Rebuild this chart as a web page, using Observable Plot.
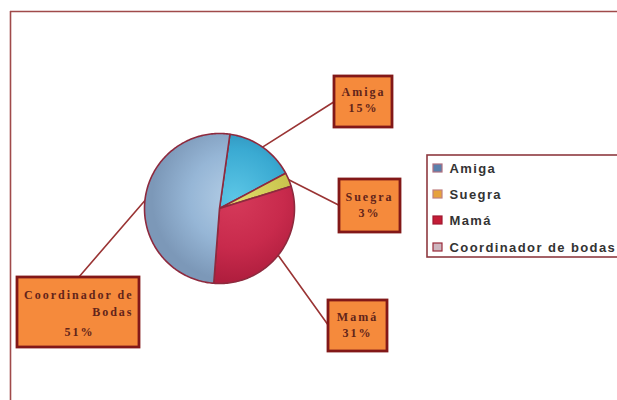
<!DOCTYPE html>
<html>
<head>
<meta charset="utf-8">
<script src="https://cdn.jsdelivr.net/npm/d3@7"></script>
<script src="https://cdn.jsdelivr.net/npm/@observablehq/plot@0.6"></script>
<style>
  html, body { margin: 0; padding: 0; background: #fff; }
  #chart { width: 617px; height: 400px; overflow: hidden; }
</style>
</head>
<body>
<div id="chart"></div>
<script>
// ---- data ----
const categories = ["Amiga", "Suegra", "Mamá", "Coordinador de bodas"];
const values = [15, 3, 31, 51];
const percentLabels = ["15%", "3%", "31%", "51%"];
const calloutLines = [["Amiga"], ["Suegra"], ["Mamá"], ["Coordinador de", "Bodas"]];

// ---- layout / style ----
const W = 617, H = 400;
const cx = 219, cy = 208, R = 75;
const startAngle = 8 * Math.PI / 180;
const sliceFill = ["url(#gAmiga)", "url(#gSuegra)", "url(#gMama)", "url(#gCoord)"];
const swatchFill = ["#5a80ac", "#e6a23c", "#c41c36", "#cdb6bf"];
const swatchStroke = ["#b07080", "#c08080", "#a01830", "#9a2a3a"];
// callout boxes: [x1, y1, x2, y2], attach point, text anchor/x, first text baseline y
const boxes = [
  {x1: 334, y1: 76, x2: 392, y2: 127, ax: 334, ay: 101, tx: 363, anchor: "middle", ty: 92, px: 363},
  {x1: 339, y1: 179, x2: 400, y2: 232, ax: 339, ay: 205, tx: 369, anchor: "middle", ty: 197, px: 369},
  {x1: 328, y1: 300, x2: 387, y2: 351, ax: 328, ay: 325, tx: 357, anchor: "middle", ty: 317, px: 357},
  {x1: 17, y1: 277, x2: 139, y2: 347, ax: 78, ay: 277, tx: 133, anchor: "end", ty: 295, px: 79}
];

const pie = d3.pie().sort(null).value(d => d).startAngle(startAngle).endAngle(startAngle + 2 * Math.PI);
const arcs = pie(values);

const pt = (a, r) => [cx + r * Math.sin(a), cy - r * Math.cos(a)];

// slice polygons
const slicePolys = arcs.map((a, i) => {
  const pts = [{x: cx, y: cy}];
  const n = Math.max(4, Math.ceil((a.endAngle - a.startAngle) / 0.02));
  for (let k = 0; k <= n; k++) {
    const t = a.startAngle + (a.endAngle - a.startAngle) * k / n;
    const [x, y] = pt(t, R);
    pts.push({x, y});
  }
  return pts;
});

// leader lines
const leaders = arcs.map((a, i) => {
  const mid = (a.startAngle + a.endAngle) / 2;
  const [x0, y0] = pt(mid, R);
  const b = boxes[i];
  return [{x: x0, y: y0, i}, {x: b.ax, y: b.ay, i}];
}).flat();

// callout texts
const calloutTexts = [];
boxes.forEach((b, i) => {
  calloutLines[i].forEach((t, k) => {
    calloutTexts.push({x: b.tx, y: b.ty + k * 17, text: t, anchor: b.anchor});
  });
  calloutTexts.push({x: b.px, y: b.ty + calloutLines[i].length * 17 + (i === 3 ? 3 : -1), text: percentLabels[i], anchor: "middle"});
});

const legendY = [168, 194, 220, 247];
const legendItems = categories.map((c, i) => ({c, i, y: legendY[i]}));

const serif = "Liberation Serif, DejaVu Serif, serif";
const marks = [
  // frame lines
  Plot.ruleY([11], {x1: 10, x2: W, stroke: "#a04a4a", strokeWidth: 1.6}),
  Plot.ruleX([10], {y1: 11, y2: H, stroke: "#a04a4a", strokeWidth: 1.6}),
  // leader lines
  Plot.line(leaders, {x: "x", y: "y", z: "i", stroke: "#9a3434", strokeWidth: 1.6}),
  // pie slices
  ...slicePolys.map((p, i) => Plot.line(p, {x: "x", y: "y", curve: "linear-closed", fill: sliceFill[i], stroke: "#8e2a3e", strokeWidth: 1.6})),
  // callout boxes
  Plot.rect(boxes, {x1: "x1", x2: "x2", y1: "y1", y2: "y2", fill: "#f58a3c", stroke: "#821818", strokeWidth: 2.8}),
  Plot.text(calloutTexts.filter(d => d.anchor === "middle"), {x: "x", y: "y", text: "text", textAnchor: "middle", fill: "#62241a", fontSize: 12, fontWeight: "bold", fontFamily: serif}),
  Plot.text(calloutTexts.filter(d => d.anchor === "end"), {x: "x", y: "y", text: "text", textAnchor: "end", fill: "#62241a", fontSize: 12, fontWeight: "bold", fontFamily: serif}),
  // legend box
  Plot.rect([0], {x1: 427, x2: W + 20, y1: 155, y2: 257, fill: "white", stroke: "#8e3a40", strokeWidth: 1.6}),
  Plot.rect(legendItems, {x1: 433, x2: 442, y1: d => d.y - 4, y2: d => d.y + 4, fill: d => swatchFill[d.i], stroke: d => swatchStroke[d.i], strokeWidth: 1.2}),
  Plot.text(legendItems, {x: 449, y: "y", text: "c", textAnchor: "start", fill: "#333", fontSize: 13, fontWeight: "bold", fontFamily: "Liberation Sans, Arial, sans-serif"})
];

const svg = Plot.plot({
  width: W, height: H, margin: 0,
  x: {type: "identity", axis: null},
  y: {type: "identity", axis: null},
  style: {background: "white", overflow: "hidden"},
  marks
});

// gradients for the slice shading
const defs = d3.select(svg).insert("defs", ":first-child");
function radial(id, stops) {
  const g = defs.append("radialGradient").attr("id", id)
    .attr("gradientUnits", "userSpaceOnUse").attr("cx", cx + 15).attr("cy", cy - 10).attr("r", R * 1.1);
  stops.forEach(([o, c]) => g.append("stop").attr("offset", o).attr("stop-color", c));
}
radial("gAmiga", [[0, "#5cc6e6"], [0.6, "#3aaad2"], [1, "#2b86b0"]]);
radial("gSuegra", [[0, "#e0dc6a"], [0.7, "#c8c34c"], [1, "#b4a83a"]]);
radial("gMama", [[0, "#d63a5a"], [0.6, "#c82a4c"], [1, "#b01e3e"]]);
radial("gCoord", [[0, "#b4cee6"], [0.55, "#96b6d6"], [1, "#7c98b8"]]);

// letter spacing per font group
d3.select(svg).selectAll("text").each(function() {
  const fam = this.getAttribute("font-family") || (this.parentNode && this.parentNode.getAttribute("font-family")) || "";
  if (/Serif/.test(fam)) this.style.letterSpacing = "2px";
  else this.style.letterSpacing = "1.4px";
});

document.getElementById("chart").appendChild(svg);
</script>
</body>
</html>
